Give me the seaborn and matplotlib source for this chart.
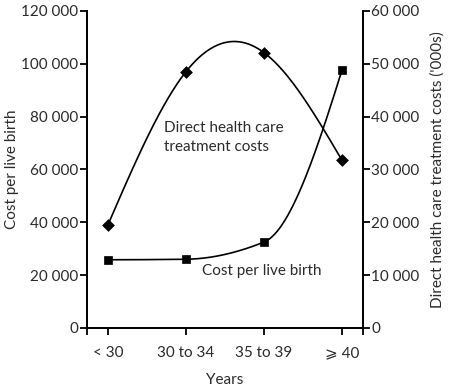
import numpy as np
import pandas as pd
import matplotlib
matplotlib.use("Agg")
import matplotlib.pyplot as plt
from matplotlib.ticker import FuncFormatter, FixedLocator
import seaborn as sns

categories = ["< 30", "30 to 34", "35 to 39", "\u2a7e 40"]
cost_per_birth = [25800, 26000, 32500, 97700]
direct_costs = [19500, 48500, 52100, 31700]
left_ticks = [0, 20000, 40000, 60000, 80000, 100000, 120000]
right_ticks = [0, 10000, 20000, 30000, 40000, 50000, 60000]

sns.set_style("ticks")
plt.rcParams["font.family"] = ["Lato", "DejaVu Sans"]
plt.rcParams["font.size"] = 11


def natural_spline(xs, ys, n=300):
    xs = np.asarray(xs, float)
    ys = np.asarray(ys, float)
    k = len(xs)
    h = np.diff(xs)
    A = np.zeros((k, k))
    b = np.zeros(k)
    A[0, 0] = A[-1, -1] = 1
    for i in range(1, k - 1):
        A[i, i - 1] = h[i - 1]
        A[i, i] = 2 * (h[i - 1] + h[i])
        A[i, i + 1] = h[i]
        b[i] = 6 * ((ys[i + 1] - ys[i]) / h[i] - (ys[i] - ys[i - 1]) / h[i - 1])
    M = np.linalg.solve(A, b)
    xx = np.linspace(xs[0], xs[-1], n)
    yy = np.empty_like(xx)
    for j, x in enumerate(xx):
        i = min(np.searchsorted(xs, x, side="right") - 1, k - 2)
        t1 = xs[i + 1] - x
        t0 = x - xs[i]
        yy[j] = (M[i] * t1 ** 3 / (6 * h[i]) + M[i + 1] * t0 ** 3 / (6 * h[i])
                 + (ys[i] / h[i] - M[i] * h[i] / 6) * t1
                 + (ys[i + 1] / h[i] - M[i + 1] * h[i] / 6) * t0)
    return xx, yy


def pchip(xs, ys, n=300):
    xs = np.asarray(xs, float)
    ys = np.asarray(ys, float)
    h = np.diff(xs)
    d = np.diff(ys) / h
    k = len(xs)
    m = np.zeros(k)
    for i in range(1, k - 1):
        if d[i - 1] * d[i] > 0:
            w1 = 2 * h[i] + h[i - 1]
            w2 = h[i] + 2 * h[i - 1]
            m[i] = (w1 + w2) / (w1 / d[i - 1] + w2 / d[i])
    m[0] = ((2 * h[0] + h[1]) * d[0] - h[0] * d[1]) / (h[0] + h[1])
    if np.sign(m[0]) != np.sign(d[0]):
        m[0] = 0
    m[-1] = ((2 * h[-1] + h[-2]) * d[-1] - h[-1] * d[-2]) / (h[-1] + h[-2])
    if np.sign(m[-1]) != np.sign(d[-1]):
        m[-1] = 0
    xx = np.linspace(xs[0], xs[-1], n)
    yy = np.empty_like(xx)
    for j, x in enumerate(xx):
        i = min(np.searchsorted(xs, x, side="right") - 1, k - 2)
        t = (x - xs[i]) / h[i]
        h00 = 2 * t ** 3 - 3 * t ** 2 + 1
        h10 = t ** 3 - 2 * t ** 2 + t
        h01 = -2 * t ** 3 + 3 * t ** 2
        h11 = t ** 3 - t ** 2
        yy[j] = h00 * ys[i] + h10 * h[i] * m[i] + h01 * ys[i + 1] + h11 * h[i] * m[i + 1]
    return xx, yy


xpos = np.arange(len(categories))
fig = plt.figure(figsize=(4.5, 3.89), dpi=100)
ax = fig.add_axes([0.193, 0.157, 0.614, 0.815])
ax2 = ax.twinx()

sx, sy = pchip(xpos, cost_per_birth)
dx, dy = natural_spline(xpos, direct_costs)

sns.lineplot(x=sx, y=sy, ax=ax, color="black", linewidth=1.2)
sns.scatterplot(x=xpos, y=cost_per_birth, ax=ax, marker="s", s=40,
                color="black", edgecolor="black", zorder=5)
sns.lineplot(x=dx, y=dy, ax=ax2, color="black", linewidth=1.2)
sns.scatterplot(x=xpos, y=direct_costs, ax=ax2, marker="D", s=36,
                color="black", edgecolor="black", zorder=5)

xlim = (-0.27, 3.27)
ax.set_xlim(*xlim)
ax.set_ylim(0, 120000)
ax2.set_ylim(0, 60000)
ax.set_xticks(xpos)
ax.set_xticklabels(categories)
ax.xaxis.set_minor_locator(FixedLocator(list(xlim)))
ax.set_yticks(left_ticks)
ax2.set_yticks(right_ticks)
fmt = FuncFormatter(lambda v, p: f"{int(v):,}".replace(",", " "))
ax.yaxis.set_major_formatter(fmt)
ax2.yaxis.set_major_formatter(fmt)

txt = "#2a2a2a"
for a in (ax, ax2):
    for s in a.spines.values():
        s.set_linewidth(1.3)
        s.set_color("black")
    a.spines["top"].set_visible(False)
    a.tick_params(axis="both", which="both", length=5, width=1.3,
                  colors="black", labelcolor=txt, labelsize=11)
ax.tick_params(axis="y", pad=1)
ax2.tick_params(axis="y", pad=1)
ax.tick_params(axis="x", pad=16)
for lab in ax.get_xticklabels():
    lab.set_verticalalignment("baseline")

ax.set_xlabel("Years", fontsize=11, color=txt, labelpad=9)
ax.set_ylabel("Cost per live birth", fontsize=11, color=txt, labelpad=2)
ax2.set_ylabel("Direct health care treatment costs ('000s)", fontsize=11,
               color=txt, labelpad=8)

ax.text(0.72, 71900, "Direct health care\ntreatment costs", fontsize=11,
        color=txt, va="center", ha="left", linespacing=1.45)
ax.text(1.2, 21700, "Cost per live birth", fontsize=11, color=txt,
        va="center", ha="left")

fig.savefig("out.png", dpi=100)
